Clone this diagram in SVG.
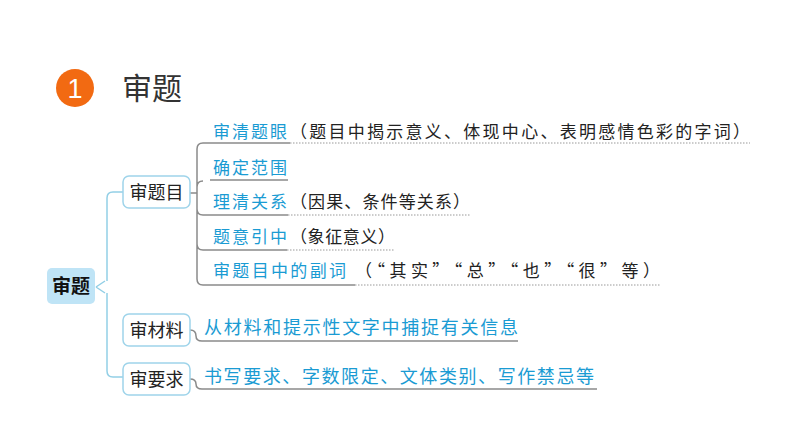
<svg xmlns="http://www.w3.org/2000/svg" width="794" height="447" viewBox="0 0 794 447">
<style>
.box{fill:#fff;stroke:#9fd4ea;stroke-width:1.5}
.bl{stroke:#92cfe6;stroke-width:1.5;fill:none}
.gr{stroke:#8a8a8a;stroke-width:1.5;fill:none}
.dot{stroke:#999;stroke-width:1;stroke-dasharray:1.5 1.5;fill:none}
.nt{font-family:"Noto Sans CJK SC","Noto Sans",sans-serif;font-size:18px;fill:#222;text-anchor:middle}
.b{font-family:"Noto Sans CJK SC","Noto Sans",sans-serif;font-size:17px;fill:#1a9bd3}
.k{font-family:"Noto Sans CJK SC","Noto Sans",sans-serif;font-size:17px;fill:#222}
.b2{font-family:"Noto Sans CJK SC","Noto Sans",sans-serif;font-size:18px;fill:#1a9bd3}
</style>
<rect width="794" height="447" fill="#fff"/>
<g id="title">
<circle cx="75" cy="88" r="19" fill="#f26a12"/>
<text x="75" y="98" font-family="Liberation Sans,Arial,sans-serif" font-size="27" fill="#fff" text-anchor="middle">1</text>
<text x="122" y="99" font-family="'Noto Sans CJK SC',sans-serif" font-size="30" fill="#333">审题</text>
</g>
<g id="connectors">
<path class="bl" d="M96 287 L105 281 M96 287 L105 293 M107 281 V198 Q107 192 113 192 H123 M107 293 V371 Q107 377 113 377 H123"/>
<path class="gr" d="M190 193 H197 M203 143 Q197 143 197 149 V279 Q197 285 203 285 H355 M203 143 H290 M210 180 H288 M197 187 Q197 181 203 181 M197 209 Q197 215 203 215 H288 M197 244 Q197 250 203 250 H287"/>
<path class="dot" d="M290 143 H750 M288 215 H470 M287 250 H395 M355 285 H660"/>
<path class="gr" d="M190 330 Q196 330 196 336 Q196 341 202 341 H518 M190 379 Q196 379 196 384 Q196 389 202 389 H597"/>
</g>
<g id="root">
<rect x="47" y="268" width="48" height="36" rx="5" fill="#bfe4f6"/>
<text x="71" y="293" font-family="'Noto Sans CJK SC',sans-serif" font-size="19" font-weight="bold" fill="#111" text-anchor="middle">审题</text>
</g>
<g id="n-timu">
<rect class="box" x="123" y="176" width="67" height="32" rx="6"/>
<text class="nt" x="156.5" y="198.5">审题目</text>
</g>
<g id="n-cailiao">
<rect class="box" x="123" y="314" width="67" height="32" rx="6"/>
<text class="nt" x="156.5" y="336.5">审材料</text>
</g>
<g id="n-yaoqiu">
<rect class="box" x="123" y="363" width="67" height="32" rx="6"/>
<text class="nt" x="156.5" y="385.5">审要求</text>
</g>
<g id="items">
<text class="b" x="213" y="138" textLength="74" lengthAdjust="spacing">审清题眼</text>
<text class="k" x="290" y="138" textLength="460" lengthAdjust="spacing">（题目中揭示意义、体现中心、表明感情色彩的字词）</text>
<text class="b" x="213" y="174" textLength="74" lengthAdjust="spacing">确定范围</text>
<text class="b" x="213" y="208" textLength="74" lengthAdjust="spacing">理清关系</text>
<text class="k" x="290" y="208" textLength="180" lengthAdjust="spacing">（因果、条件等关系）</text>
<text class="b" x="213" y="243" textLength="74" lengthAdjust="spacing">题意引中</text>
<text class="k" x="290" y="243" textLength="105" lengthAdjust="spacing">（象征意义）</text>
<text class="b" x="213" y="277" textLength="133" lengthAdjust="spacing">审题目中的副词</text>
<text class="k" x="355" y="277" textLength="305" lengthAdjust="spacing">（“其实”“总”“也”“很”等）</text>
<text class="b2" x="204" y="334" textLength="314" lengthAdjust="spacing">从材料和提示性文字中捕捉有关信息</text>
<text class="b2" x="204" y="383" textLength="390" lengthAdjust="spacing">书写要求、字数限定、文体类别、写作禁忌等</text>
</g>
</svg>
